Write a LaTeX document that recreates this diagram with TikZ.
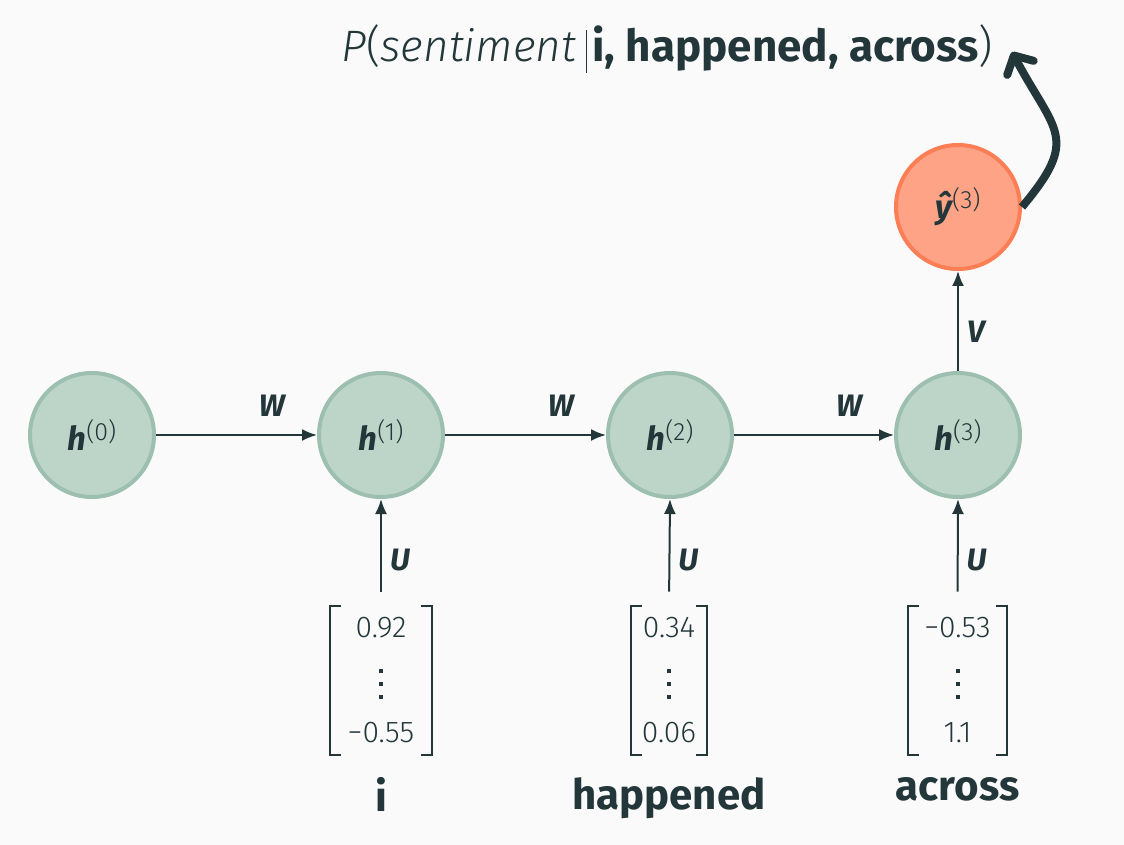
\documentclass[tikz,border=0pt]{standalone}
\usepackage{fontspec}
\setmainfont{Fira Sans}
\newfontfamily\lightfont{Fira Sans Light}
\usetikzlibrary{arrows.meta}
\definecolor{txt}{HTML}{23373B}
\definecolor{bg}{HTML}{FAFAFA}
\definecolor{hfill}{HTML}{BCD5C8}
\definecolor{hdraw}{HTML}{9DBFB0}
\definecolor{yfill}{HTML}{FFA387}
\definecolor{ydraw}{HTML}{FC7E55}
\newcommand\hlab[2]{{\fontsize{16.5}{16.5}\selectfont\bfseries\itshape #1}\raisebox{5pt}{\lightfont\fontsize{12.5}{12.5}\selectfont(#2)}}
\tikzset{
  hnode/.style={circle, draw=hdraw, fill=hfill, line width=2pt, minimum size=62pt, inner sep=0pt, text=txt},
  ynode/.style={hnode, draw=ydraw, fill=yfill},
  conn/.style={draw=txt, line width=1pt, -{Latex[length=7.5pt,width=6pt]}},
  wlab/.style={font=\fontsize{15.5}{15.5}\selectfont\bfseries\itshape, text=txt, inner sep=2pt},
  vecbox/.style={minimum height=74.5pt, inner sep=0pt},
  bracket/.style={draw=txt, line width=1pt},
  num/.style={font=\lightfont\fontsize{15}{15}\selectfont, text=txt, inner sep=0pt},
  dotsq/.style={fill=txt, minimum size=2pt, inner sep=0pt},
  word/.style={font=\fontsize{21}{21}\selectfont\bfseries, text=txt, anchor=north, inner sep=0pt},
  bigarrow/.style={draw=txt, line width=4pt, -{Straight Barb[round, length=7pt, width=15pt]}},
  titlestyle/.style={font=\fontsize{22}{22}\selectfont, text=txt, inner sep=0pt, anchor=base west}
}
\begin{document}
\begin{tikzpicture}[x=0.5pt, y=-0.5pt]
\fill[bg] (0,0) rectangle (1124,845);
\useasboundingbox (0,0) rectangle (1124,845);

% hidden states
\node[hnode] (h0) at (92,435) {\hlab{h}{0}};
\node[hnode] (h1) at (381,435) {\hlab{h}{1}};
\node[hnode] (h2) at (670,435) {\hlab{h}{2}};
\node[hnode] (h3) at (958,435) {\hlab{h}{3}};
\node[ynode] (y3) at (958,207) {\hlab{ŷ}{3}};

% recurrent connections
\draw[conn] (h0) -- node[wlab, above=7pt, pos=0.72] (w1) {W} (h1);
\draw[conn] (h1) -- node[wlab, above=7pt, pos=0.72] (w2) {W} (h2);
\draw[conn] (h2) -- node[wlab, above=7pt, pos=0.72] (w3) {W} (h3);
\draw[conn] (h3) -- node[wlab, right=2pt, pos=0.39] (vl) {V} (y3);

% input vectors
\node[vecbox, minimum width=50.5pt] (v1) at (381,680.5) {};
\node[vecbox, minimum width=38pt] (v2) at (669,680.5) {};
\node[vecbox, minimum width=49.5pt] (v3) at (957.5,680.5) {};
\foreach \v in {v1,v2,v3}{
  \draw[bracket] ([xshift=5.5pt]\v.north west) -- (\v.north west) -- (\v.south west) -- ([xshift=5.5pt]\v.south west);
  \draw[bracket] ([xshift=-5.5pt]\v.north east) -- (\v.north east) -- (\v.south east) -- ([xshift=-5.5pt]\v.south east);
}
\node[num] (v1a) at (381,628) {0.92};
\node[num] (v1c) at (381,733) {−0.55};
\node[num] (v2a) at (669,628) {0.34};
\node[num] (v2c) at (669,733) {0.06};
\node[num] (v3a) at (957.5,628) {−0.53};
\node[num] (v3c) at (957.5,733) {1.1};
% vertical ellipses
\foreach \x/\n in {381/v1b,669/v2b,957.5/v3b}{
  \node[dotsq] (\n1) at (\x,671) {};
  \node[dotsq] (\n2) at (\x,684) {};
  \node[dotsq] (\n3) at (\x,697) {};
}

\draw[conn, shorten <=7pt] (v1.north) -- node[wlab, right=2pt, pos=0.43] (u1) {U} (h1.south);
\draw[conn, shorten <=7pt] (v2.north) -- node[wlab, right=2pt, pos=0.43] (u2) {U} (h2.south);
\draw[conn, shorten <=7pt] (v3.north) -- node[wlab, right=2pt, pos=0.43] (u3) {U} (h3.south);

% words
\node[word] (wi) at (381,777) {i};
\node[word] (wh) at (669,777) {happened};
\node[word] (wa) at (957.5,777) {across};

% title
\node[titlestyle] (title) at (341,62) {{\lightfont\itshape P}{\lightfont(}{\lightfont\itshape sentiment}\hspace{5pt}\raisebox{-5.5pt}{\rule{0.6pt}{21.5pt}}\hspace{2.5pt}\textbf{i, happened, across}{\lightfont)}};
\coordinate (pend) at (1012,52);
\draw[bigarrow] (y3.east) to[out=50, in=-62, looseness=1.5] (pend);
\end{tikzpicture}
\end{document}
